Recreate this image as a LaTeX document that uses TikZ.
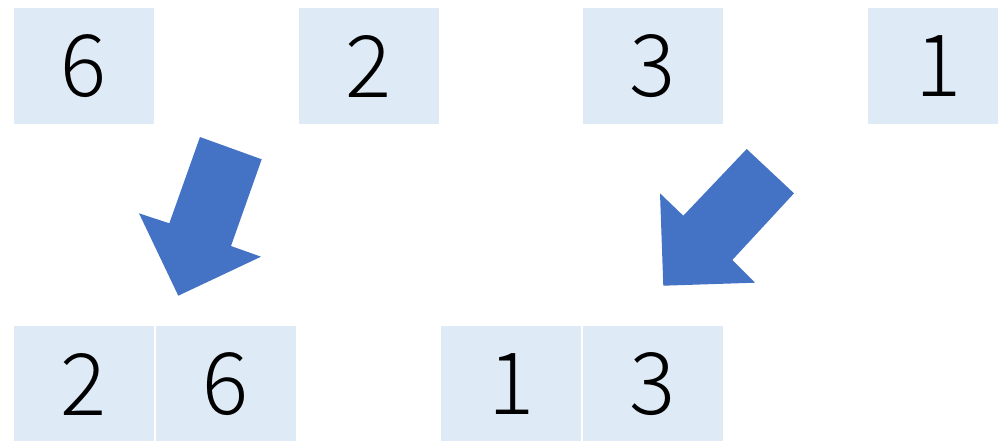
\documentclass[tikz,border=0pt]{standalone}
\usepackage{fontspec}
\usepackage{xcolor}
\usepackage{tikz}
\newfontfamily\jpfont{Noto Sans CJK JP Light}
\definecolor{cellbg}{HTML}{DEEAF6}
\definecolor{arrowx}{HTML}{4472C4}
\tikzset{
  cell/.style={fill=cellbg,minimum width=140pt,minimum height=116pt,inner sep=0pt,font=\jpfont\fontsize{86}{86}\selectfont},
  blk/.style={fill=arrowx}
}
\begin{document}
\begin{tikzpicture}[x=1pt,y=-1pt]
\useasboundingbox (0,0) rectangle (998,440);
% top row
\node[cell] (t1) at (84,66) {6};
\node[cell] (t2) at (368.5,66) {2};
\node[cell] (t3) at (652.5,66) {3};
\node[cell] (t4) at (938,66) {1};
% merged pairs
\node[cell] (b1) at (84,384) {2};
\node[cell] (b2) at (226,384) {6};
\node[cell] (b3) at (511,384) {1};
\node[cell] (b4) at (652.5,384) {3};
% block arrows
\fill[blk] (200,137) -- (261.7,159.3) -- (231,246) -- (261,256.7) -- (178.3,295.7)
  -- (139,213.3) -- (169.3,223.3) -- cycle;
\fill[blk] (746.7,149) -- (794,193.3) -- (732.3,260) -- (755,282.7) -- (663.3,285.7)
  -- (660,193.3) -- (683.3,215.7) -- cycle;
\end{tikzpicture}
\end{document}
